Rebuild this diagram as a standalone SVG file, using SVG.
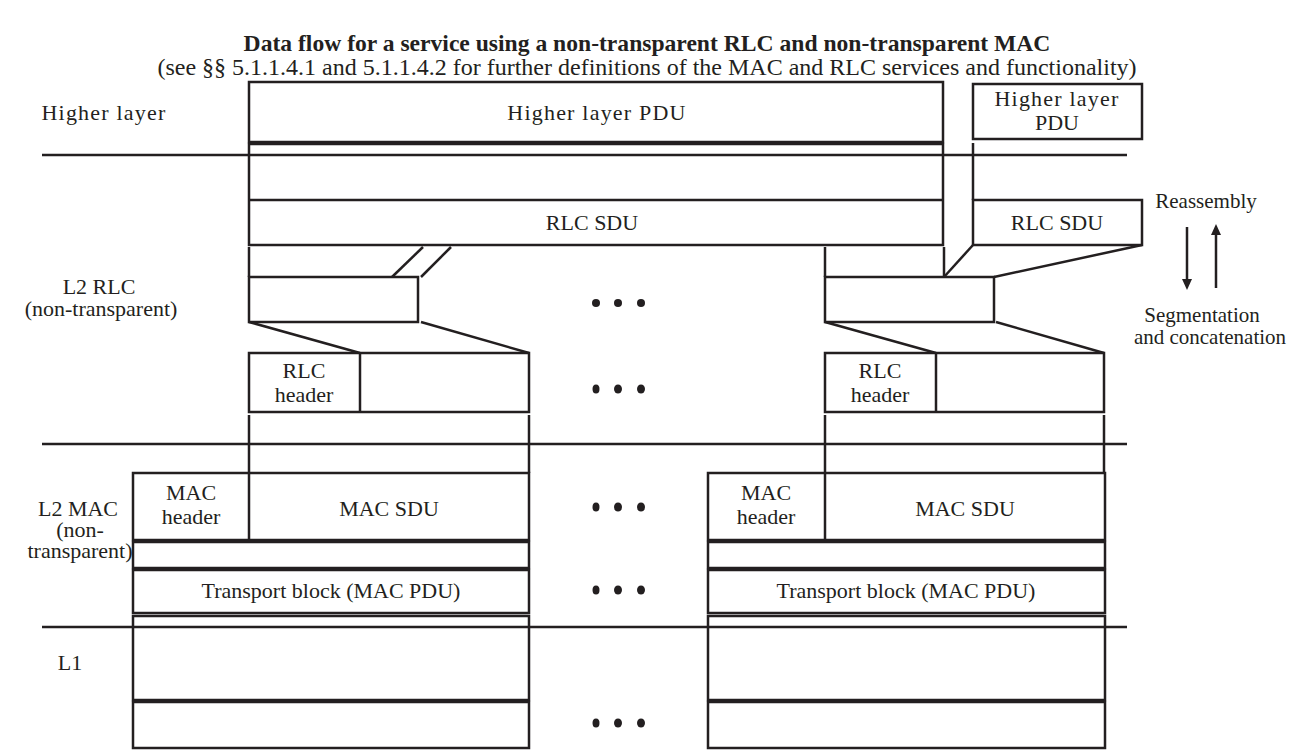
<svg xmlns="http://www.w3.org/2000/svg" width="1295" height="755" viewBox="0 0 1295 755">
<style>
.t{font-family:"Liberation Serif","Times New Roman",serif;font-size:22px;fill:#231f20;text-anchor:middle}
.sp{letter-spacing:1.2px}
.ttl{font-weight:bold;font-size:23.6px}
.sub{font-size:24px}
.sm{font-size:21px}
.b{fill:none;stroke:#231f20;stroke-width:2.5}
.l{fill:none;stroke:#231f20;stroke-width:2.5}
.d{fill:#231f20}
</style>
<rect width="1295" height="755" fill="#ffffff"/>
<g id="title">
<text class="t ttl" x="647" y="51">Data flow for a service using a non-transparent RLC and non-transparent MAC</text>
<text class="t sub" x="647" y="75">(see §§ 5.1.1.4.1 and 5.1.1.4.2 for further definitions of the MAC and RLC services and functionality)</text>
</g>
<g id="layer-labels">
<text class="t sp" x="104" y="120">Higher layer</text>
<text class="t" x="99" y="294">L2 RLC</text>
<text class="t" x="101" y="316">(non-transparent)</text>
<text class="t" x="78" y="516">L2 MAC</text>
<text class="t" x="80" y="537">(non-</text>
<text class="t" x="80" y="558">transparent)</text>
<text class="t" x="70" y="670">L1</text>
</g>
<g id="layer-lines">
<line class="l" x1="42" y1="155" x2="1127" y2="155"/>
<line class="l" x1="42" y1="444" x2="1127" y2="444"/>
<line class="l" x1="42" y1="627" x2="1127" y2="627"/>
</g>
<g id="higher-pdu-left">
<rect class="b" x="249" y="82" width="694" height="60"/>
<text class="t sp" x="597" y="120">Higher layer PDU</text>
</g>
<g id="rlc-sdu-left">
<rect class="b" x="249" y="144" width="694" height="101"/>
<line class="l" x1="249" y1="200" x2="943" y2="200"/>
<text class="t" x="592" y="230">RLC SDU</text>
</g>
<g id="higher-pdu-right">
<rect class="b" x="973" y="84" width="169" height="55"/>
<text class="t sp" x="1057" y="106">Higher layer</text>
<text class="t" x="1057" y="130">PDU</text>
</g>
<g id="rlc-sdu-right">
<rect class="b" x="973" y="200" width="169" height="45"/>
<text class="t" x="1057" y="230">RLC SDU</text>
</g>
<g id="rlc-seg-left">
<rect class="b" x="249" y="277" width="169" height="45"/>
</g>
<g id="rlc-seg-right">
<rect class="b" x="825" y="277" width="169" height="45"/>
</g>
<g id="rlc-pdu-left">
<rect class="b" x="249" y="353" width="280" height="59"/>
<line class="l" x1="360" y1="353" x2="360" y2="412"/>
<text class="t" x="304" y="378">RLC</text>
<text class="t" x="304" y="402">header</text>
</g>
<g id="rlc-pdu-right">
<rect class="b" x="825" y="353" width="279" height="59"/>
<line class="l" x1="936" y1="353" x2="936" y2="412"/>
<text class="t" x="880" y="378">RLC</text>
<text class="t" x="880" y="402">header</text>
</g>
<g id="mac-left">
<rect class="b" x="133" y="473" width="396" height="67"/>
<line class="l" x1="249" y1="473" x2="249" y2="540"/>
<text class="t" x="191" y="500">MAC</text>
<text class="t" x="191" y="524">header</text>
<text class="t" x="389" y="516">MAC SDU</text>
<rect class="b" x="133" y="542" width="396" height="26"/>
<rect class="b" x="133" y="570" width="396" height="43"/>
<text class="t" x="331" y="598">Transport block (MAC PDU)</text>
<rect class="b" x="133" y="616" width="396" height="84"/>
<rect class="b" x="133" y="702" width="396" height="46"/>
</g>
<g id="mac-right">
<rect class="b" x="708" y="473" width="397" height="67"/>
<line class="l" x1="825" y1="473" x2="825" y2="540"/>
<text class="t" x="766" y="500">MAC</text>
<text class="t" x="766" y="524">header</text>
<text class="t" x="965" y="516">MAC SDU</text>
<rect class="b" x="708" y="542" width="397" height="26"/>
<rect class="b" x="708" y="570" width="397" height="43"/>
<text class="t" x="906" y="598">Transport block (MAC PDU)</text>
<rect class="b" x="708" y="616" width="397" height="84"/>
<rect class="b" x="708" y="702" width="397" height="46"/>
</g>
<g id="side-labels">
<text class="t sm" x="1206" y="208">Reassembly</text>
<text class="t sm" x="1202" y="322">Segmentation</text>
<text class="t sm" x="1210" y="344">and concatenation</text>
</g>
<g id="connectors">
<line class="l" x1="973" y1="143" x2="973" y2="200"/>
<line class="l" x1="249" y1="247" x2="249" y2="277"/>
<line class="l" x1="944" y1="247" x2="944" y2="277"/>
<line class="l" x1="825" y1="247" x2="825" y2="277"/>
<line class="l" x1="392" y1="277" x2="423" y2="247"/>
<line class="l" x1="421" y1="277" x2="451" y2="247"/>
<line class="l" x1="944" y1="277" x2="973" y2="245"/>
<line class="l" x1="994" y1="277" x2="1142" y2="245"/>
<line class="l" x1="249" y1="322" x2="360" y2="353"/>
<line class="l" x1="421" y1="322" x2="529" y2="353"/>
<line class="l" x1="825" y1="322" x2="936" y2="353"/>
<line class="l" x1="996" y1="322" x2="1104" y2="353"/>
<line class="l" x1="249" y1="415" x2="249" y2="473"/>
<line class="l" x1="529" y1="415" x2="529" y2="473"/>
<line class="l" x1="825" y1="415" x2="825" y2="473"/>
<line class="l" x1="1104" y1="415" x2="1104" y2="473"/>
<line class="l" x1="1187" y1="227" x2="1187" y2="280"/>
<polygon class="d" points="1182,279 1192,279 1187,290"/>
<line class="l" x1="1216" y1="288" x2="1216" y2="234"/>
<polygon class="d" points="1211,235 1221,235 1216,224"/>
</g>
<g id="ellipsis">
<ellipse class="d" cx="596" cy="303" rx="4" ry="4"/><ellipse class="d" cx="618" cy="303" rx="4" ry="4"/><ellipse class="d" cx="641" cy="303" rx="4" ry="4"/>
<ellipse class="d" cx="596" cy="389" rx="3.5" ry="4.5"/><ellipse class="d" cx="618" cy="389" rx="4" ry="4.5"/><ellipse class="d" cx="641" cy="389" rx="4" ry="4.5"/>
<ellipse class="d" cx="596" cy="507" rx="3.5" ry="4.5"/><ellipse class="d" cx="618" cy="507" rx="4" ry="4.5"/><ellipse class="d" cx="641" cy="507" rx="4" ry="4.5"/>
<ellipse class="d" cx="596" cy="590" rx="3.5" ry="4.5"/><ellipse class="d" cx="618" cy="590" rx="4" ry="4.5"/><ellipse class="d" cx="641" cy="590" rx="4" ry="4.5"/>
<ellipse class="d" cx="596" cy="723" rx="3.5" ry="4.5"/><ellipse class="d" cx="618" cy="723" rx="4" ry="4.5"/><ellipse class="d" cx="641" cy="723" rx="4" ry="4.5"/>
</g>
</svg>
